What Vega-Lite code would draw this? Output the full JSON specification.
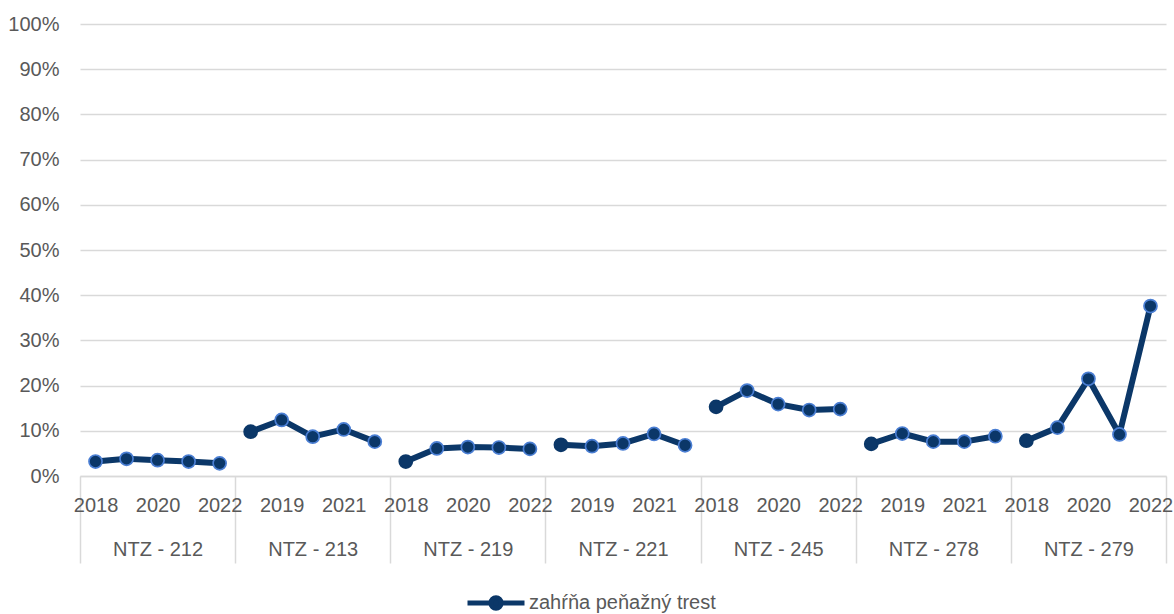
{
  "$schema": "https://vega.github.io/schema/vega-lite/v6.json",
  "width": 1086,
  "height": 452,
  "autosize": {"type": "none"},
  "padding": {"left": 80, "top": 24, "right": 8, "bottom": 138},
  "background": "white",
  "config": {
    "view": {"stroke": null},
    "font": "Liberation Sans",
    "axis": {"labelFont": "Liberation Sans", "labelColor": "#595959", "labelFontSize": 20}
  },
  "data": {
    "values": [
      {"group": "NTZ - 212", "year": 2018, "value": 0.032},
      {"group": "NTZ - 212", "year": 2019, "value": 0.038},
      {"group": "NTZ - 212", "year": 2020, "value": 0.035},
      {"group": "NTZ - 212", "year": 2021, "value": 0.032},
      {"group": "NTZ - 212", "year": 2022, "value": 0.028},
      {"group": "NTZ - 213", "year": 2018, "value": 0.098},
      {"group": "NTZ - 213", "year": 2019, "value": 0.124},
      {"group": "NTZ - 213", "year": 2020, "value": 0.087},
      {"group": "NTZ - 213", "year": 2021, "value": 0.103},
      {"group": "NTZ - 213", "year": 2022, "value": 0.076},
      {"group": "NTZ - 219", "year": 2018, "value": 0.032},
      {"group": "NTZ - 219", "year": 2019, "value": 0.061},
      {"group": "NTZ - 219", "year": 2020, "value": 0.064},
      {"group": "NTZ - 219", "year": 2021, "value": 0.063},
      {"group": "NTZ - 219", "year": 2022, "value": 0.060},
      {"group": "NTZ - 221", "year": 2018, "value": 0.069},
      {"group": "NTZ - 221", "year": 2019, "value": 0.066},
      {"group": "NTZ - 221", "year": 2020, "value": 0.072},
      {"group": "NTZ - 221", "year": 2021, "value": 0.093},
      {"group": "NTZ - 221", "year": 2022, "value": 0.068},
      {"group": "NTZ - 245", "year": 2018, "value": 0.153},
      {"group": "NTZ - 245", "year": 2019, "value": 0.189},
      {"group": "NTZ - 245", "year": 2020, "value": 0.159},
      {"group": "NTZ - 245", "year": 2021, "value": 0.146},
      {"group": "NTZ - 245", "year": 2022, "value": 0.148},
      {"group": "NTZ - 278", "year": 2018, "value": 0.071},
      {"group": "NTZ - 278", "year": 2019, "value": 0.094},
      {"group": "NTZ - 278", "year": 2020, "value": 0.076},
      {"group": "NTZ - 278", "year": 2021, "value": 0.076},
      {"group": "NTZ - 278", "year": 2022, "value": 0.088},
      {"group": "NTZ - 279", "year": 2018, "value": 0.078},
      {"group": "NTZ - 279", "year": 2019, "value": 0.107},
      {"group": "NTZ - 279", "year": 2020, "value": 0.215},
      {"group": "NTZ - 279", "year": 2021, "value": 0.092},
      {"group": "NTZ - 279", "year": 2022, "value": 0.376}
    ]
  },
  "transform": [
    {"calculate": "indexof(['NTZ - 212','NTZ - 213','NTZ - 219','NTZ - 221','NTZ - 245','NTZ - 278','NTZ - 279'], datum.group) * 5 + (datum.year - 2018) + 0.5", "as": "x"}
  ],
  "encoding": {
    "y": {
      "field": "value",
      "type": "quantitative",
      "scale": {"domain": [0, 1], "nice": false, "zero": true},
      "axis": {
        "title": null,
        "values": [0, 0.1, 0.2, 0.3, 0.4, 0.5, 0.6, 0.7, 0.8, 0.9, 1],
        "format": ".0%",
        "domain": false,
        "ticks": false,
        "labelPadding": 21,
        "grid": true,
        "gridColor": "#d9d9d9",
        "gridWidth": 1.5
      }
    }
  },
  "layer": [
    {
      "mark": {"type": "line", "strokeWidth": 6, "strokeJoin": "round", "strokeCap": "round"},
      "encoding": {
        "x": {
          "field": "x",
          "type": "quantitative",
          "scale": {"domain": [0, 35], "nice": false, "zero": false},
          "axis": {
            "orient": "bottom",
            "title": null,
            "values": [0, 5, 10, 15, 20, 25, 30, 35],
            "labels": false,
            "grid": false,
            "domain": true,
            "domainColor": "#d9d9d9",
            "domainWidth": 1.5,
            "ticks": true,
            "tickSize": 87,
            "tickColor": "#d9d9d9",
            "tickWidth": 1.5
          }
        },
        "detail": {"field": "group"},
        "color": {
          "datum": "zahŕňa peňažný trest",
          "scale": {"range": ["#0b3768"]},
          "legend": {
            "title": null,
            "orient": "none",
            "legendX": 385,
            "legendY": 548,
            "symbolType": "M-1,0H-0.2 M0.2,0H1 M-0.18,0A0.18,0.18 0 1,0 0.18,0A0.18,0.18 0 1,0 -0.18,0Z",
            "symbolSize": 3249,
            "symbolStrokeWidth": 5,
            "labelFont": "Liberation Sans",
            "labelFontSize": 20,
            "labelColor": "#595959",
            "labelOffset": 2,
            "labelLimit": 400,
            "encode": {
              "symbols": {"update": {"fill": {"value": "#0b3768"}, "stroke": {"value": "#0b3768"}, "opacity": {"value": 1}}}
            }
          }
        }
      }
    },
    {
      "mark": {"type": "point", "filled": true, "size": 170, "fill": "#0b3768", "strokeWidth": 1.7, "opacity": 1},
      "encoding": {
        "x": {
          "field": "x",
          "type": "quantitative",
          "scale": {"domain": [0, 35], "nice": false, "zero": false},
          "axis": {
            "orient": "bottom",
            "title": null,
            "values": [0.5, 2.5, 4.5, 6.5, 8.5, 10.5, 12.5, 14.5, 16.5, 18.5, 20.5, 22.5, 24.5, 26.5, 28.5, 30.5, 32.5, 34.5],
            "labelExpr": "'' + (2018 + floor(datum.value) % 5)",
            "labelOverlap": false,
            "labelFlush": false,
            "labelBound": false,
            "grid": false,
            "domain": false,
            "ticks": false,
            "labelPadding": 19
          }
        },
        "stroke": {
          "condition": {"test": "datum.year == 2018 && datum.group != 'NTZ - 212'", "value": "#0b3768"},
          "value": "#4a7ed3"
        }
      }
    },
    {
      "mark": {"type": "point", "opacity": 0},
      "encoding": {
        "x": {
          "field": "x",
          "type": "quantitative",
          "scale": {"domain": [0, 35], "nice": false, "zero": false},
          "axis": {
            "orient": "bottom",
            "title": null,
            "values": [2.5, 7.5, 12.5, 17.5, 22.5, 27.5, 32.5],
            "labelExpr": "['NTZ - 212','NTZ - 213','NTZ - 219','NTZ - 221','NTZ - 245','NTZ - 278','NTZ - 279'][floor(datum.value / 5)]",
            "labelOverlap": false,
            "labelFlush": false,
            "labelBound": false,
            "grid": false,
            "domain": false,
            "ticks": false,
            "labelPadding": 63
          }
        }
      }
    }
  ],
  "resolve": {"axis": {"x": "independent"}}
}
